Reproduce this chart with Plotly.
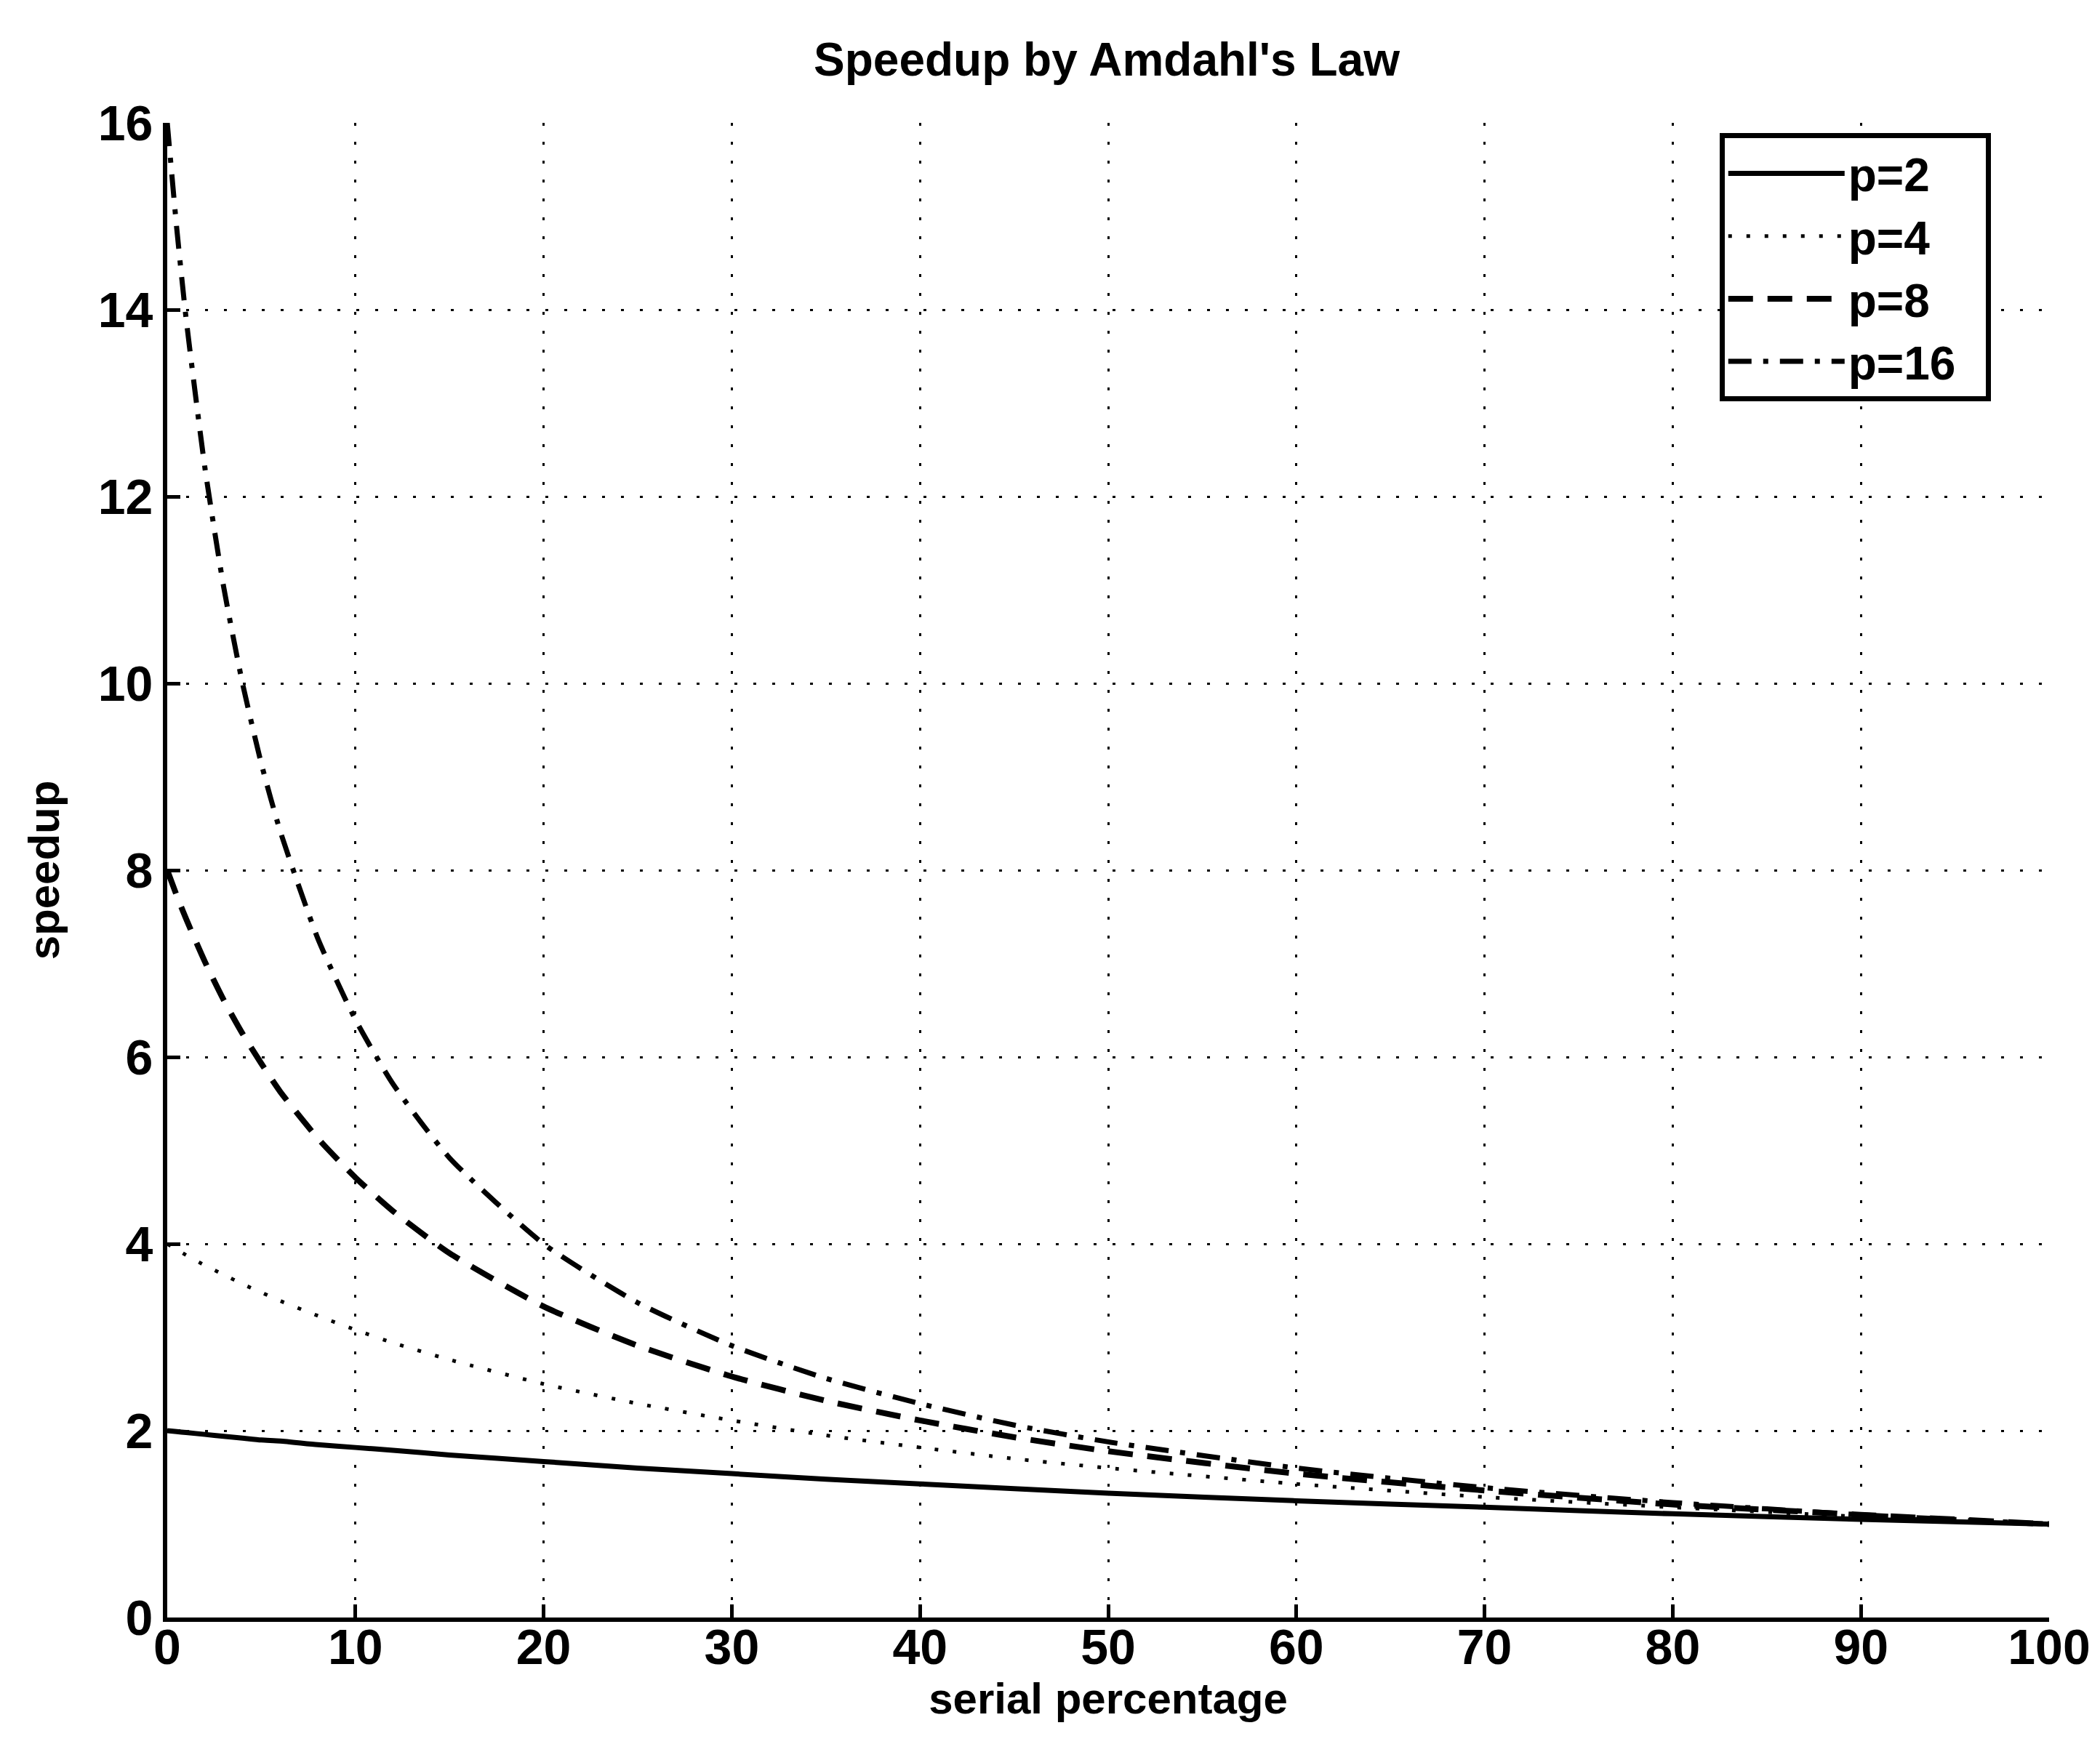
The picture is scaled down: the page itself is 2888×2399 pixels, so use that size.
import plotly.graph_objects as go

# serial percentage sample points
serial_pct = [0, 0.5, 1, 2, 3, 4, 5, 6, 8, 10, 12, 15, 20, 25, 30, 35, 40, 45, 50, 60, 70, 80, 90, 100]

speedup_p2 = [2.00, 1.99, 1.98, 1.96, 1.94, 1.92, 1.90, 1.89, 1.85, 1.82, 1.79, 1.74, 1.67, 1.60,
              1.54, 1.48, 1.43, 1.38, 1.33, 1.25, 1.18, 1.11, 1.05, 1.00]
speedup_p4 = [4.00, 3.94, 3.88, 3.77, 3.67, 3.57, 3.48, 3.39, 3.23, 3.08, 2.94, 2.76, 2.50, 2.29,
              2.11, 1.95, 1.82, 1.70, 1.60, 1.43, 1.29, 1.18, 1.08, 1.00]
speedup_p8 = [8.00, 7.73, 7.48, 7.02, 6.61, 6.25, 5.93, 5.63, 5.13, 4.71, 4.35, 3.90, 3.33, 2.91,
              2.58, 2.32, 2.11, 1.93, 1.78, 1.54, 1.36, 1.21, 1.10, 1.00]
speedup_p16 = [16.00, 14.88, 13.91, 12.31, 11.03, 10.00, 9.14, 8.42, 7.27, 6.40, 5.71, 4.92, 4.00, 3.37,
               2.91, 2.56, 2.29, 2.06, 1.88, 1.60, 1.39, 1.23, 1.10, 1.00]

series_names = ["p=2", "p=4", "p=8", "p=16"]
x_ticks = [0, 10, 20, 30, 40, 50, 60, 70, 80, 90, 100]
y_ticks = [0, 2, 4, 6, 8, 10, 12, 14, 16]

FONT = "Liberation Sans, Arial, sans-serif"

styles = [
    dict(width=7, dash="solid"),
    dict(width=5, dash="5px,20px"),
    dict(width=8, dash="34px,20px"),
    dict(width=7, dash="32px,16px,7px,16px"),
]

fig = go.Figure()
for name, ys, st in zip(series_names, [speedup_p2, speedup_p4, speedup_p8, speedup_p16], styles):
    fig.add_trace(go.Scatter(
        x=serial_pct, y=ys, mode="lines", name=name + "\u00a0\u00a0",
        line=dict(color="black", width=st["width"], dash=st["dash"], shape="spline", smoothing=0.6),
    ))

axis_common = dict(
    showline=True, linecolor="black", linewidth=6, mirror=False,
    ticks="inside", ticklen=18, tickwidth=5, tickcolor="black",
    showgrid=True, gridcolor="black", gridwidth=3, griddash="4px,22px",
    zeroline=False,
    tickfont=dict(family=FONT, size=68, color="black", weight="bold"),
)

fig.update_xaxes(range=[0, 100], tickvals=x_ticks, ticklabelstandoff=-24,
                 title=dict(text="serial percentage", standoff=0,
                            font=dict(family=FONT, size=60, color="black", weight="bold")),
                 **axis_common)
fig.update_yaxes(range=[0, 16], tickvals=y_ticks,
                 title=dict(text="speedup", standoff=36,
                            font=dict(family=FONT, size=60, color="black", weight="bold")),
                 **axis_common)

fig.update_layout(
    width=2888, height=2399,
    paper_bgcolor="white", plot_bgcolor="white",
    margin=dict(l=230, r=70, t=169, b=174),
    title=dict(text="Speedup by Amdahl's Law", x=0.527, xanchor="center", y=0.966, yanchor="middle",
               font=dict(family=FONT, size=64, color="black", weight="bold")),
    legend=dict(
        x=0.969, y=0.993, xanchor="right", yanchor="top",
        bordercolor="black", borderwidth=7, bgcolor="white",
        font=dict(family=FONT, size=64, color="black", weight="bold"),
        itemwidth=160, tracegroupgap=0,
    ),
    showlegend=True,
)

fig.write_html("out.html")
